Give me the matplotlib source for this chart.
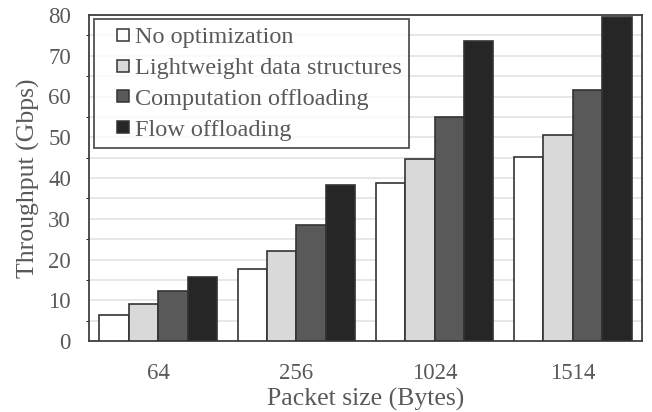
import numpy as np
import matplotlib.pyplot as plt
from matplotlib.lines import Line2D

plt.rcParams['font.family'] = ['Liberation Serif', 'DejaVu Serif']

sizes = ['64', '256', '1024', '1514']
series = ['No optimization', 'Lightweight data structures',
          'Computation offloading', 'Flow offloading']
no_opt = [6.4, 17.6, 38.7, 45.2]
lightweight = [9.2, 22.1, 44.6, 50.6]
comp_off = [12.3, 28.5, 55.0, 61.5]
flow_off = [15.7, 38.4, 73.7, 79.6]
colors = ['#ffffff', '#d9d9d9', '#595959', '#262626']

txt = '#595959'
fs = 16.5
fig = plt.figure(figsize=(6.52, 4.12), dpi=100)
ax = fig.add_axes([89 / 652, 1 - 341 / 412, 553 / 652, 326 / 412])

x = np.arange(len(sizes))
w = 0.2125
vals = [no_opt, lightweight, comp_off, flow_off]
for i, (name, v) in enumerate(zip(series, vals)):
    ax.bar(x + (i - 1.5) * w, v, w, color=colors[i], edgecolor='#333333',
           linewidth=1.2, label=name, zorder=3)

ax.set_xlim(-0.5, 3.5)
ax.set_ylim(0, 80)
ax.set_yticks(range(0, 81, 10))
ax.set_yticks(range(5, 80, 10), minor=True)
ax.grid(axis='y', which='both', color='#e3e3e3', linewidth=1.2, zorder=0)
ax.set_xticks(x)
ax.set_xticklabels(sizes)
ax.tick_params(axis='both', length=0, labelsize=fs, labelcolor=txt)
ax.tick_params(axis='x', pad=16)
ax.tick_params(axis='y', pad=13)
for s in ax.spines.values():
    s.set_color('#404040')
    s.set_linewidth(1.3)

ax.set_xlabel('Packet size (Bytes)', fontsize=18.5, color=txt, labelpad=3)
ax.set_ylabel('Throughput (Gbps)', fontsize=18.5, color=txt, labelpad=6)

handles = [Line2D([], [], marker='s', linestyle='', markersize=8,
                  markerfacecolor=c, markeredgecolor='#333333',
                  markeredgewidth=1.1) for c in colors]
leg = ax.legend(handles, series, loc='upper left',
                bbox_to_anchor=(5 / 553, 0, 315 / 553, 322 / 326),
                mode='expand', fontsize=17.5, numpoints=1,
                frameon=True, fancybox=False, handlelength=1.75,
                handletextpad=-0.35, labelspacing=0.36,
                borderpad=0.3, borderaxespad=0.0, labelcolor=txt)
leg.get_frame().set_edgecolor('#262626')
leg.get_frame().set_linewidth(1.3)
leg.set_zorder(5)

fig.savefig('out.png', dpi=100)
